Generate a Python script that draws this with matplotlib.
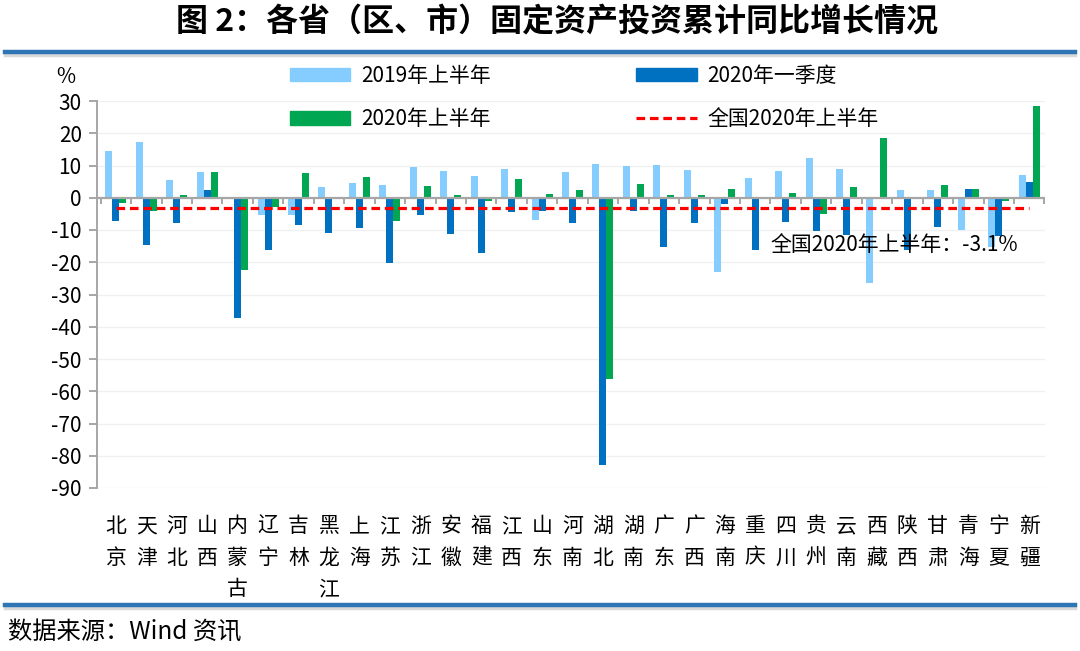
import matplotlib.pyplot as plt
import matplotlib.patches as mpatches
import matplotlib.lines as mlines
import matplotlib.transforms as mtransforms
import numpy as np

plt.rcParams['font.family'] = ['Noto Sans CJK SC', 'DejaVu Sans']
plt.rcParams['axes.unicode_minus'] = False

# 数据
provinces = ['北京', '天津', '河北', '山西', '内蒙古', '辽宁', '吉林', '黑龙江', '上海', '江苏',
             '浙江', '安徽', '福建', '江西', '山东', '河南', '湖北', '湖南', '广东', '广西',
             '海南', '重庆', '四川', '贵州', '云南', '西藏', '陕西', '甘肃', '青海', '宁夏', '新疆']
h1_2019 = [14.4, 17.2, 5.4, 8.0, 0.0, -5.2, -5.2, 3.3, 4.7, 3.9,
           9.5, 8.4, 6.8, 8.9, -6.9, 8.0, 10.6, 9.8, 10.2, 8.5,
           -23.0, 6.0, 8.2, 12.2, 8.9, -26.3, 2.4, 2.4, -10.0, -15.2, 7.1]
q1_2020 = [-7.2, -14.8, -7.8, 2.4, -37.3, -16.3, -8.4, -11.0, -9.4, -20.3,
           -5.4, -11.2, -17.0, -4.4, -4.2, -7.7, -82.8, -4.1, -15.4, -7.9,
           -1.8, -16.2, -7.4, -10.3, -11.6, 0.0, -16.2, -9.2, 2.6, -11.9, 4.9]
h1_2020 = [-1.5, -4.0, 0.7, 8.1, -22.4, -2.8, 7.6, 0.1, 6.5, -7.2,
           3.6, 0.8, -0.9, 5.7, 1.1, 2.5, -56.3, 4.4, 0.8, 0.9,
           2.8, 0.1, 1.4, -5.1, 3.3, 18.4, 0.0, 3.8, 2.8, -0.9, 28.5]
national = -3.1

c_light = '#85CCFF'
c_blue = '#0070C0'
c_green = '#00A651'
c_gray = '#A6A6A6'

fig = plt.figure(figsize=(10.8, 6.51), dpi=100)
ax = fig.add_axes([97 / 1080, 1 - 488 / 651, (1045 - 97) / 1080, (488 - 101) / 651])

x = np.arange(len(provinces))
w = 0.23
ax.bar(x - w, h1_2019, w, color=c_light, zorder=2)
ax.bar(x, q1_2020, w, color=c_blue, zorder=2)
ax.bar(x + w, h1_2020, w, color=c_green, zorder=2)

# 全国线
dash = (0, (2.7, 1.5))
ax.plot([0, len(provinces) - 1], [national, national], color='#FF0000', lw=2.3,
        ls=dash, zorder=4)

# 零轴和刻度
ax.axhline(0, color=c_gray, lw=1.6, zorder=3)
bounds = np.arange(len(provinces) + 1) - 0.5
ax.vlines(bounds, -1.9, 0, color=c_gray, lw=1.4, zorder=3)

ax.set_xlim(-0.62, 30.52)
ax.set_ylim(-90, 30)
ax.set_yticks(np.arange(-90, 31, 10))
ax.tick_params(axis='y', direction='out', length=6, width=1.4, color=c_gray,
               labelsize=15, pad=5)
ax.set_xticks([])
for s in ['top', 'right', 'bottom']:
    ax.spines[s].set_visible(False)
ax.spines['left'].set_color(c_gray)
ax.spines['left'].set_linewidth(1.4)
ax.grid(axis='y', color='#F0F0F0', lw=1, zorder=0)
ax.set_axisbelow(True)

# 省份标签 (竖排)
for i, name in enumerate(provinces):
    for j, ch in enumerate(name):
        off = mtransforms.ScaledTranslation(0, -(38 + j * 31.5) / 100, fig.dpi_scale_trans)
        ax.text(i, 0, ch, fontsize=15, ha='center', va='center',
                transform=ax.get_xaxis_transform() + off)

ax.text(21.5, -14.7, '全国2020年上半年：-3.1%', fontsize=15, ha='left', va='center', zorder=5)

fig.text(66 / 1080, 1 - 77 / 651, '%', fontsize=15, ha='center', va='center')

# 图例
handles = [mpatches.Patch(color=c_light, label='2019年上半年'),
           mpatches.Patch(color=c_green, label='2020年上半年'),
           mpatches.Patch(color=c_blue, label='2020年一季度'),
           mlines.Line2D([], [], color='#FF0000', lw=2.3, ls=dash, label='全国2020年上半年')]
fig.legend(handles=handles, ncol=2, loc='upper left', bbox_to_anchor=(290 / 1080, 1 - 65 / 651),
           frameon=False, fontsize=15, handlelength=2.9, handleheight=0.62,
           handletextpad=0.5, columnspacing=7.0, labelspacing=1.02, borderpad=0, borderaxespad=0)

# 标题和来源
fig.text(557 / 1080, 1 - 21 / 651, '图 2：各省（区、市）固定资产投资累计同比增长情况',
         fontsize=23, fontweight='bold', ha='center', va='center')
for yy in [52, 605]:
    fig.add_artist(mlines.Line2D([5 / 1080, 1075 / 1080], [1 - (yy + 3) / 651] * 2,
                                 color='#D9D9D9', lw=2.5))
    fig.add_artist(mlines.Line2D([5 / 1080, 1075 / 1080], [1 - yy / 651] * 2,
                                 color='#2E75B6', lw=3.2))
fig.text(8 / 1080, 1 - 633 / 651, '数据来源：Wind 资讯', fontsize=17.5, ha='left', va='center')

plt.savefig('out.png', dpi=100)
